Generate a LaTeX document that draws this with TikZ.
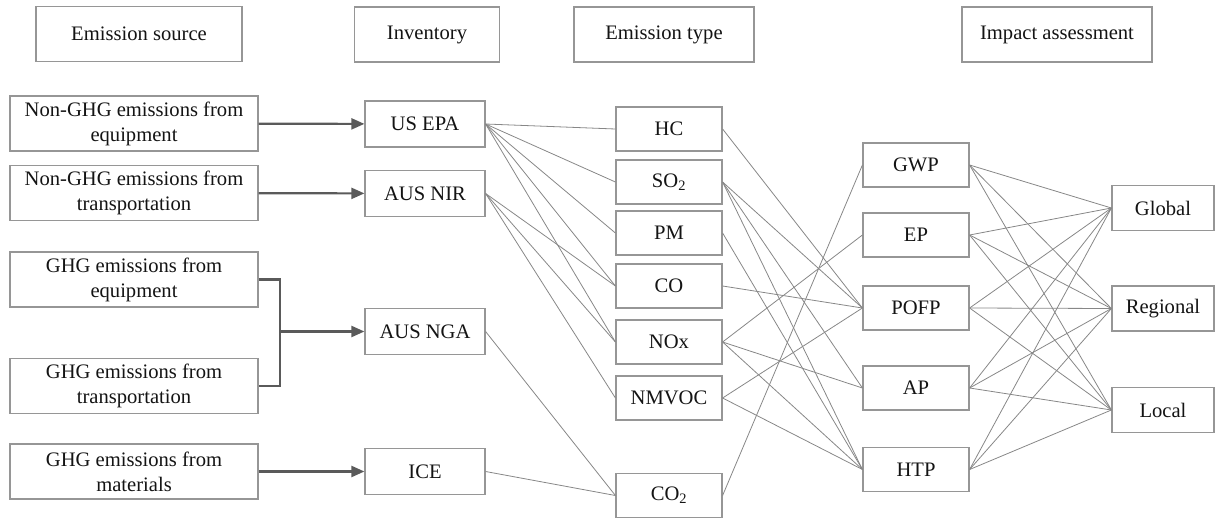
\documentclass[tikz,border=0pt]{standalone}
\usepackage{fontspec}
\setmainfont{Liberation Serif}
\newfontfamily\boxfont{Liberation Serif}
\usetikzlibrary{arrows.meta}

\begin{document}
\begin{tikzpicture}[x=1pt, y=-1pt,
  font=\boxfont\fontsize{20.6}{25}\selectfont,
  box/.style={draw=c_box, line width=1.2pt, fill=white, text=c_text,
    inner sep=0pt, minimum height=44pt, align=center},
  head/.style={box, minimum height=55pt},
  srcbox/.style={box, minimum width=248pt, minimum height=55pt},
  link/.style={draw=c_link, line width=0.8pt},
  feed/.style={draw=c_arrow, line width=2.2pt}]

\definecolor{c_box}{RGB}{150,150,150}
\definecolor{c_link}{RGB}{135,135,135}
\definecolor{c_arrow}{RGB}{90,90,90}
\definecolor{c_text}{RGB}{20,20,20}

\useasboundingbox (0,0) rectangle (1216,519);

\def \xsrc {134}
\def \xinv {425}
\def \xtyp {669}
\def \ximp {916}
\def \xsca {1163}

% Column headers
\node[head, minimum width=206pt] (hsrc) at (139,34) {Emission source};
\node[head, minimum width=145pt] (hinv) at (427,34.5) {Inventory};
\node[head, minimum width=180pt] (htyp) at (664,34.5) {Emission type};
\node[head, minimum width=190pt] (himp) at (1057,34.5) {Impact assessment};

% Emission sources
\node[srcbox] (src1) at (\xsrc,123.5) {Non-GHG emissions from\\equipment};
\node[srcbox] (src2) at (\xsrc,193) {Non-GHG emissions from\\transportation};
\node[srcbox] (src3) at (\xsrc,279.5) {GHG emissions from\\equipment};
\node[srcbox] (src4) at (\xsrc,386) {GHG emissions from\\transportation};
\node[srcbox] (src5) at (\xsrc,471.5) {GHG emissions from\\materials};

% Inventories
\node[box, minimum width=120pt, minimum height=46pt] (usepa) at (\xinv,124) {US EPA};
\node[box, minimum width=120pt, minimum height=46pt] (ausnir) at (\xinv,193.5) {AUS NIR};
\node[box, minimum width=120pt, minimum height=46pt] (ausnga) at (\xinv,331.5) {AUS NGA};
\node[box, minimum width=120pt, minimum height=46pt] (ice) at (\xinv,471.5) {ICE};

% Emission types
\node[box, minimum width=106pt] (hc) at (\xtyp,129) {HC};
\node[box, minimum width=106pt] (so2) at (\xtyp,182) {SO\textsubscript{2}};
\node[box, minimum width=106pt] (pm) at (\xtyp,233) {PM};
\node[box, minimum width=106pt] (co) at (\xtyp,286) {CO};
\node[box, minimum width=106pt] (nox) at (\xtyp,342) {NOx};
\node[box, minimum width=106pt] (nmvoc) at (\xtyp,398) {NMVOC};
\node[box, minimum width=106pt] (co2) at (\xtyp,495.5) {CO\textsubscript{2}};

% Impact categories
\node[box, minimum width=106pt] (gwp) at (\ximp,165) {GWP};
\node[box, minimum width=106pt] (ep) at (\ximp,235) {EP};
\node[box, minimum width=106pt] (pofp) at (\ximp,308) {POFP};
\node[box, minimum width=106pt] (ap) at (\ximp,388) {AP};
\node[box, minimum width=106pt] (htp) at (\ximp,469.5) {HTP};

% Scales
\node[box, minimum width=102pt, minimum height=45pt] (global) at (\xsca,208) {Global};
\node[box, minimum width=102pt, minimum height=45pt] (regional) at (\xsca,308.5) {Regional};
\node[box, minimum width=102pt, minimum height=45pt] (local) at (\xsca,410) {Local};

% Sources to inventories
\draw[feed, -{Triangle[length=13pt,width=11pt]}] (src1) -- (usepa);
\draw[feed, -{Triangle[length=13pt,width=11pt]}] (src2) -- (ausnir);
\draw[feed, -{Triangle[length=13pt,width=11pt]}] (src5) -- (ice);
\coordinate (join) at (280,331.5);
\draw[feed] (src3.east) -| (join) |- (src4.east);
\draw[feed, -{Triangle[length=13pt,width=11pt]}] (join) -- (ausnga);

% Inventories to emission types
\foreach \a/\b in {usepa/hc, usepa/so2, usepa/pm, usepa/co, usepa/nox,
                   ausnir/co, ausnir/nox, ausnir/nmvoc,
                   ausnga/co2, ice/co2} {
  \draw[link] (\a.east) -- (\b.west);
}

% Emission types to impacts
\foreach \a/\b in {hc/pofp, so2/pofp, so2/ap, so2/htp, pm/htp, co/pofp,
                   nox/ep, nox/ap, nox/htp, nmvoc/pofp, nmvoc/htp, co2/gwp} {
  \draw[link] (\a.east) -- (\b.west);
}

% Impacts to scales
\foreach \i in {gwp, ep, pofp, ap, htp} {
  \foreach \s in {global, regional, local} {
    \draw[link] (\i.east) -- (\s.west);
  }
}

\end{tikzpicture}
\end{document}
